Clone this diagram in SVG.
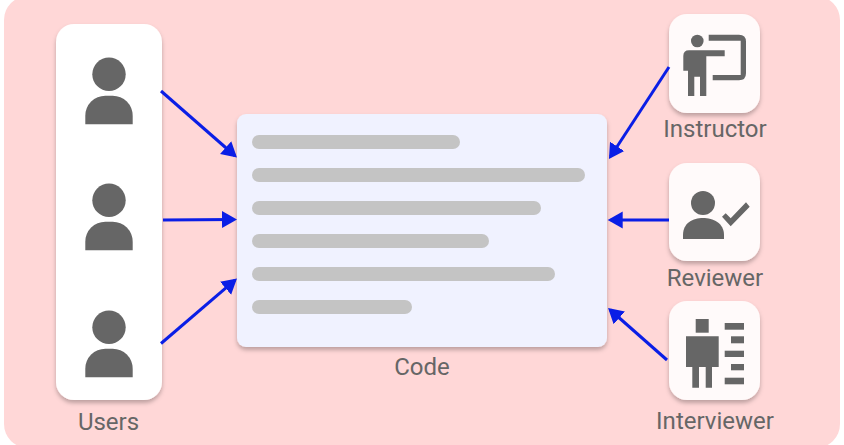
<svg xmlns="http://www.w3.org/2000/svg" width="844" height="445" viewBox="0 0 844 445">
<style>
.t{font-family:Roboto,"Liberation Sans",sans-serif;font-size:24px;fill:#666;text-anchor:middle}
.g{fill:#666}
.c{fill:#fffafa;filter:url(#s)}
.b{fill:#c4c4c4}
.l{stroke:#0a1ee6;stroke-width:3;fill:none;marker-end:url(#a)}
</style>
<defs>
<filter id="s" x="-20%" y="-20%" width="140%" height="140%"><feDropShadow dx="0" dy="3" stdDeviation="2" flood-color="#000" flood-opacity=".26"/></filter>
<marker id="a" markerUnits="userSpaceOnUse" markerWidth="18" markerHeight="20" refX="12" refY="9" orient="auto"><path d="M0 .5L15 9L0 17.500Z" fill="#0a1ee6"/></marker>
<g id="person"><circle cx="109" cy="74.300" r="16.700"/><path d="M85.300 124.300V115.700a20 20 0 0 1 20-20h7.400a20 20 0 0 1 20 20v8.600Z"/></g>
</defs>
<rect x="0" y="0" width="844" height="445" fill="#fff"/>
<rect id="background" x="4" y="-4" width="836" height="452" rx="24" fill="#ffd7d7"/>
<g id="users">
<rect x="56" y="24" width="106" height="376" rx="18" fill="#fff" filter="url(#s)"/>
<use href="#person" class="g"/>
<use href="#person" class="g" y="126"/>
<use href="#person" class="g" y="253"/>
<text class="t" x="108.500" y="430">Users</text>
</g>
<g id="code">
<rect x="237" y="114" width="370" height="233" rx="9" fill="#f0f2ff" filter="url(#s)"/>
<rect class="b" x="252" y="135" width="208" height="14" rx="7"/>
<rect class="b" x="252" y="168" width="333" height="14" rx="7"/>
<rect class="b" x="252" y="201" width="289" height="14" rx="7"/>
<rect class="b" x="252" y="234" width="237" height="14" rx="7"/>
<rect class="b" x="252" y="267" width="303" height="14" rx="7"/>
<rect class="b" x="252" y="300" width="160" height="14" rx="7"/>
<text class="t" x="422" y="375">Code</text>
</g>
<g id="instructor">
<rect class="c" x="669" y="14" width="91" height="99" rx="18"/>
<g class="g"><circle cx="697.300" cy="41" r="6.300"/>
<path d="M689 50.300H724.700V56.300H706.300V96H700V76.700H694.300V96H688V70.700H683.300V56Q683.300 50.300 689 50.300Z"/>
<path d="M708.700 34.700H739Q746 34.700 746 41.700V73.300Q746 80.300 739 80.300H712.700V75H740.700V40.700H708.700Z"/></g>
<text class="t" x="715" y="137">Instructor</text>
</g>
<g id="reviewer">
<rect class="c" x="669" y="163" width="91" height="98" rx="18"/>
<g class="g"><circle cx="703" cy="203" r="12"/>
<path d="M683 239V235C683 223 693 218 703 218S724 223 724 235V239Z"/>
<path d="M722 216.700L725.700 213.300L730.700 218.300L746 202.300L749.700 206.700L730.700 226.300Z"/></g>
<text class="t" x="715" y="286">Reviewer</text>
</g>
<g id="interviewer">
<rect class="c" x="669" y="301" width="91" height="99" rx="18"/>
<g class="g"><rect x="695.700" y="319" width="13" height="13.700"/>
<path d="M686 336.300H718.700V367H712V387.700H705.700V367H699V387.700H692.300V367H686Z"/>
<rect x="724.700" y="323" width="19.300" height="6.700"/><rect x="731" y="336.300" width="13" height="7"/><rect x="724.700" y="350.700" width="19.300" height="6.300"/><rect x="731" y="364" width="13" height="6.300"/><rect x="724.700" y="377.700" width="19.300" height="6.600"/></g>
<text class="t" x="715" y="429">Interviewer</text>
</g>
<g id="connectors">
<path class="l" d="M161 91L234.700 155.500"/>
<path class="l" d="M163 220L234 219.500"/>
<path class="l" d="M161 343.500L234.700 280.400"/>
<path class="l" d="M669 67L610.600 156.500"/>
<path class="l" d="M669 220H610.700"/>
<path class="l" d="M667 360L610.300 310"/>
</g>
</svg>
